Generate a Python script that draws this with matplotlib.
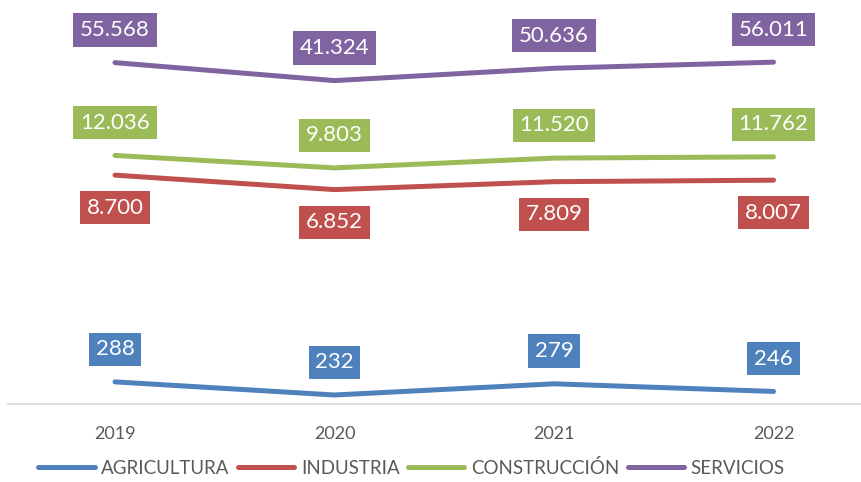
import matplotlib
matplotlib.use("Agg")
from matplotlib import pyplot as plt

years = ["2019", "2020", "2021", "2022"]
series = ["AGRICULTURA", "INDUSTRIA", "CONSTRUCCIÓN", "SERVICIOS"]
agricultura = [288, 232, 279, 246]
industria = [8700, 6852, 7809, 8007]
construccion = [12036, 9803, 11520, 11762]
servicios = [55568, 41324, 50636, 56011]
colors = ["#4F81BD", "#C0504D", "#9BBB59", "#8064A2"]
label_side = [1, -1, 1, 1]  # above / below the line

plt.rcParams["font.family"] = ["Lato", "DejaVu Sans"]

fig = plt.figure(figsize=(8.61, 4.82), dpi=100)
ax = fig.add_axes([8 / 861, 78 / 482, 853 / 861, 377 / 482])

x = list(range(len(years)))
for vals, name, c, side in zip([agricultura, industria, construccion, servicios],
                               series, colors, label_side):
    ax.plot(x, vals, color=c, lw=3.6, solid_capstyle="round", solid_joinstyle="round", label=name)
    for xi, v in zip(x, vals):
        txt = f"{v:,}".replace(",", ".")
        ax.annotate(txt, (xi, v), xytext=(0, 23.5 * side), textcoords="offset points",
                    ha="center", va="center", color="white", fontsize=16,
                    bbox=dict(boxstyle="square,pad=0.3", fc=c, ec="none"))

ax.set_yscale("log")
ax.set_ylim(200, 100000)
ax.set_xlim((8 - 115) / 219.5, (861 - 115) / 219.5)
ax.set_xticks(x)
ax.set_xticklabels(years, fontsize=13, color="#595959")
ax.tick_params(axis="x", length=0, pad=16)
ax.set_yticks([])
ax.yaxis.set_minor_locator(matplotlib.ticker.NullLocator())
for s in ["top", "left", "right"]:
    ax.spines[s].set_visible(False)
ax.spines["bottom"].set_color("#D9D9D9")
ax.spines["bottom"].set_linewidth(1.2)

leg = fig.legend(loc="center", bbox_to_anchor=(0.478, 14 / 482), ncol=4, frameon=False,
                 prop={"size": 13.5}, handlelength=3.0, handletextpad=0.35,
                 columnspacing=0.45)
for t in leg.get_texts():
    t.set_color("#595959")
for h in leg.legend_handles:
    h.set_linewidth(3.6)
    h.set_solid_capstyle("round")

fig.savefig("out.png", dpi=100)
